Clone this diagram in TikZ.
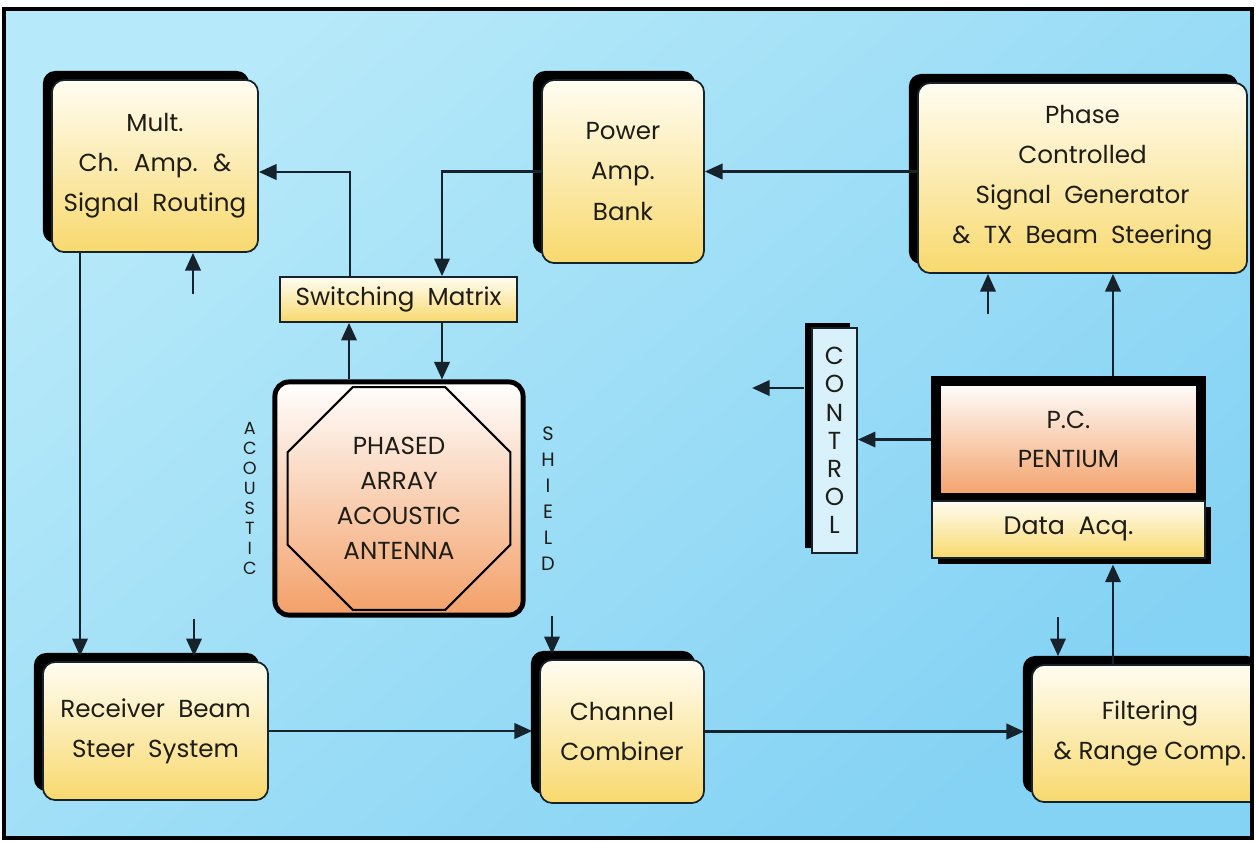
\documentclass[tikz,border=0pt]{standalone}
\usepackage{fontspec}
\newfontfamily\blockfont{Poppins}
\usetikzlibrary{arrows.meta, positioning, shapes.geometric, calc, shadows}
\definecolor{skytop}{HTML}{B6E9F9}
\definecolor{skybot}{HTML}{84D2F4}
\definecolor{boxtop}{HTML}{FFFDF2}
\definecolor{boxyellow}{HTML}{F8D96E}
\definecolor{boxorange}{HTML}{F3A068}
\definecolor{ctrlblue}{HTML}{D8F1FB}
\definecolor{wire}{HTML}{16222C}
\definecolor{ink}{HTML}{1E1D17}

\begin{document}
\begin{tikzpicture}[
    x=0.01cm, y=-0.01cm,
    >={Triangle[length=5pt,width=4.4pt]},
    block/.style={draw=wire, line width=0.5pt, rounded corners=3.5pt, top color=boxtop, bottom color=#1, text=ink, align=center, inner sep=0pt, font=\blockfont\fontsize{7}{11.4}\selectfont, general shadow={fill=black, shadow xshift=-0.09cm, shadow yshift=0.09cm}},
    block/.default=boxyellow,
    plate/.style={draw=wire, line width=0.5pt, top color=boxtop, bottom color=boxyellow, text=ink, align=center, inner sep=0pt, font=\blockfont\fontsize{7}{9}\selectfont},
    arrow/.style={->, line width=0.65pt, color=wire},
    note/.style={font=\blockfont\fontsize{5}{5.7}\selectfont, text=ink, align=center, inner sep=0pt},
]
\useasboundingbox (0,0) rectangle (1256,841);
\shade[top color=skytop, bottom color=skybot, shading angle=40] (4,9) rectangle (1252,838);

\begin{scope}
\clip (4,9) rectangle (1252,838);

% Top row
\node[block, minimum width=2.06cm, minimum height=1.72cm] (mult) at (155,166) {Mult.\\Ch.~ Amp.~ \&\\Signal~ Routing};
\node[block, minimum width=1.62cm, minimum height=1.83cm] (power) at (623,171.5) {Power\\Amp.\\Bank};
\node[block, minimum width=3.29cm, minimum height=1.90cm] (phase) at (1082.5,178) {Phase\\Controlled\\Signal~ Generator\\\&~ TX~ Beam~ Steering};
\node[plate, minimum width=2.37cm, minimum height=0.45cm] (switch) at (398.5,299.5) {Switching~ Matrix};

% Antenna
\node[draw=black, line width=1.4pt, rounded corners=4pt, top color=white, bottom color=boxorange, minimum width=2.48cm, minimum height=2.33cm] (ant) at (399,498.5) {};
\node[draw=black, line width=0.6pt, regular polygon, regular polygon sides=8, minimum size=2.41cm, inner sep=0pt, text=ink, align=center, font=\blockfont\fontsize{7}{10}\selectfont] (oct) at (ant) {PHASED\\ARRAY\\ACOUSTIC\\ANTENNA};
\node[note, left=0.15cm of ant] (acoustic) {A\\C\\O\\U\\S\\T\\I\\C};
\node[note, right=0.15cm of ant, font=\blockfont\fontsize{5.5}{7.4}\selectfont] (shield) {S\\H\\I\\E\\L\\D};

% Computer side
\node[draw=wire, line width=0.5pt, fill=ctrlblue, minimum width=0.45cm, minimum height=2.25cm, inner sep=0pt, text=ink, align=center, font=\blockfont\fontsize{7}{8}\selectfont, general shadow={fill=black, shadow xshift=-0.07cm, shadow yshift=0.05cm}] (ctrl) at (834.5,440.5) {C\\O\\N\\T\\R\\O\\L};
\node[draw=black, line width=2.7pt, top color=white, bottom color=boxorange, minimum width=2.65cm, minimum height=1.17cm, inner sep=0pt, text=ink, align=center, font=\blockfont\fontsize{7}{11}\selectfont] (pc) at (1068.5,439.5) {P.C.\\PENTIUM};
\node[plate, minimum width=2.73cm, minimum height=0.57cm, font=\blockfont\fontsize{7.2}{9}\selectfont, general shadow={fill=black, shadow xshift=0.06cm, shadow yshift=-0.06cm}, below=-0.03cm of pc] (daq) {Data~ Acq.};

% Bottom row
\node[block, minimum width=2.25cm, minimum height=1.38cm] (recv) at (155.5,731) {Receiver~ Beam\\Steer~ System};
\node[block, minimum width=1.64cm, minimum height=1.43cm] (chan) at (622,731.5) {Channel\\Combiner};
\node[block, minimum width=2.36cm, minimum height=1.37cm] (filt) at (1150,733.5) {Filtering\\\& Range Comp.};

% Transmit path
\draw[arrow] (power.east -| phase.west) -- (power.east);
\draw[arrow] (power.west) -| ($(switch.north)+(43.5,0)$);
\draw[arrow] ($(switch.north)+(-48.5,0)$) |- ($(mult.east)+(0,6)$);
\draw[arrow] ($(ant.north)+(-50,0)$) -- ($(switch.south)+(-49.5,0)$);
\draw[arrow] ($(switch.south)+(43.5,0)$) -- ($(ant.north)+(43,0)$);

% Receive path
\draw[arrow] ($(mult.south)+(-75,0)$) -- ($(recv.north)+(-75.5,-5)$);
\draw[arrow] (recv.east) -- ($(recv.east -| chan.west)+(-7,0)$);
\draw[arrow] (chan.east) -- ($(chan.east -| filt.west)+(-7,0)$);
\draw[arrow] ($(filt.north)+(-37,0)$) -- ($(daq.south)+(44.5,6)$);
\draw[arrow] ($(pc.north)+(44.5,0)$) -- ($(phase.south)+(30.5,0)$);

% Control lines
\draw[arrow] (pc.west) -- (pc.west -| ctrl.east);
\draw[arrow] ($(ctrl.west)+(-7,-52.5)$) -- ++(-52,0);

% Short inputs
\draw[arrow] ($(mult.south)+(38,41)$) -- ($(mult.south)+(38,0)$);
\draw[arrow] ($(phase.south)+(-94.5,40)$) -- ($(phase.south)+(-94.5,0)$);
\draw[arrow] ($(recv.north)+(38.5,-42)$) -- ($(recv.north)+(38.5,-5)$);
\draw[arrow] ($(chan.north)+(-70,-43)$) -- ($(chan.north)+(-70,-5)$);
\draw[arrow] ($(filt.north)+(-92,-47)$) -- ($(filt.north)+(-92,-8)$);
\end{scope}

\draw[line width=1.2pt] (4,9) rectangle (1252,838);
\end{tikzpicture}
\end{document}
